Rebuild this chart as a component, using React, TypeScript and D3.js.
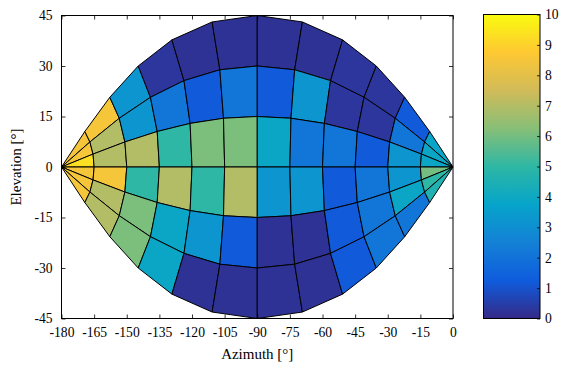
import React, { useEffect, useRef } from 'react';
import * as d3 from 'd3';

const W = 563;
const H = 365;
const plot = { left: 61.5, right: 453, top: 15.5, bottom: 318.5 };
const bar = { left: 483.5, right: 540, top: 14.5, bottom: 318.5 };

// grid edges: polar angle from the az=0 axis (columns, left to right)
const thetaEdges = [180, 165, 150, 135, 120, 105, 90, 75, 60, 45, 30, 15, 0];
// rotation about that axis (rows, top to bottom)
const phiEdges = [45, 30, 15, 0, -15, -30, -45];

// cell values, one array per row, top to bottom
const row1 = [8.5, 8.5, 3.2, 0.3, 0.2, 0.2, 0.2, 0.2, 0.3, 0.3, 1.2, 3.8];
const row2 = [8.5, 7.0, 3.2, 2.1, 1.2, 2.1, 1.2, 3.2, 0.3, 0.3, 2.1, 3.9];
const row3 = [9.3, 7.0, 7.0, 5.0, 6.1, 6.1, 3.9, 2.1, 2.1, 1.2, 3.2, 3.9];
const row4 = [8.5, 8.5, 5.0, 7.0, 5.0, 7.0, 3.2, 3.2, 1.2, 2.1, 3.2, 6.0];
const row5 = [8.5, 7.0, 6.1, 3.9, 3.2, 1.2, 0.2, 0.2, 1.2, 2.1, 3.9, 5.0];
const row6 = [8.5, 7.0, 6.1, 3.9, 0.2, 0.2, 0.2, 0.2, 1.2, 2.1, 2.1, 4.6];
const rows = [row1, row2, row3, row4, row5, row6];

const xTicks = [-180, -165, -150, -135, -120, -105, -90, -75, -60, -45, -30, -15, 0];
const yTicks = [-45, -30, -15, 0, 15, 30, 45];
const cTicks = [0, 1, 2, 3, 4, 5, 6, 7, 8, 9, 10];
const parula = ['#352a87', '#0f5cdd', '#1481d6', '#06a4ca', '#2eb7a4', '#87bf77', '#d1bb59', '#fec832', '#f9fb0e'];

const FONT = "'Liberation Serif', 'Times New Roman', Times, 'DejaVu Serif', serif";

const color = d3.scaleLinear<string>()
  .domain(parula.map((_, i) => (i * 10) / (parula.length - 1)))
  .range(parula)
  .interpolate(d3.interpolateRgb);

const x = d3.scaleLinear().domain([-180, 0]).range([plot.left, plot.right]);
const y = d3.scaleLinear().domain([-45, 45]).range([plot.bottom, plot.top]);
const cy = d3.scaleLinear().domain([0, 10]).range([bar.bottom, bar.top]);

// rotated spherical grid -> azimuth / elevation
const toAzEl = (theta: number, phi: number) => {
  const t = (theta * Math.PI) / 180;
  const p = (phi * Math.PI) / 180;
  const vx = Math.cos(t);
  const vy = -Math.sin(t) * Math.cos(p);
  const vz = Math.sin(t) * Math.sin(p);
  return [(Math.atan2(vy, vx) * 180) / Math.PI, (Math.asin(vz) * 180) / Math.PI];
};

const pt = (theta: number, phi: number) => {
  const [az, el] = toAzEl(theta, phi);
  return [x(az), y(el)] as [number, number];
};

const line = d3.line().curve(d3.curveLinearClosed);

const Axes = () => {
  const bottom = useRef<SVGGElement>(null);
  const top = useRef<SVGGElement>(null);
  const left = useRef<SVGGElement>(null);
  const right = useRef<SVGGElement>(null);
  const cbar = useRef<SVGGElement>(null);

  useEffect(() => {
    const style = (g: any) => {
      g.attr('font-family', null).attr('font-size', null);
      g.select('.domain').remove();
      g.selectAll('line').attr('stroke', '#000').attr('stroke-width', 0.8);
      g.selectAll('text').attr('fill', '#000');
    };
    const fmt = (d: any) => String(d);
    d3.select(bottom.current).call(d3.axisBottom(x).tickValues(xTicks).tickFormat(fmt).tickSize(-4).tickPadding(9)).call(style);
    d3.select(top.current).call(d3.axisTop(x).tickValues(xTicks).tickFormat(() => '').tickSize(-4)).call(style);
    d3.select(left.current).call(d3.axisLeft(y).tickValues(yTicks).tickFormat(fmt).tickSize(-4).tickPadding(9)).call(style);
    d3.select(right.current).call(d3.axisRight(y).tickValues(yTicks).tickFormat(() => '').tickSize(-4)).call(style);
    d3.select(cbar.current).call(d3.axisRight(cy).tickValues(cTicks).tickFormat(fmt).tickSize(-3).tickPadding(5)).call(style);
  }, []);

  return (
    <g style={{ fontFamily: FONT, fontSize: '13.6px' }}>
      <g ref={bottom} transform={`translate(0, ${plot.bottom})`} />
      <g ref={top} transform={`translate(0, ${plot.top})`} />
      <g ref={left} transform={`translate(${plot.left}, 0)`} />
      <g ref={right} transform={`translate(${plot.right}, 0)`} />
      <g ref={cbar} transform={`translate(${bar.right}, 0)`} />
    </g>
  );
};

const App = () => {
  const cells: { d: string; v: number; key: string }[] = [];
  rows.forEach((vals, r) => {
    vals.forEach((v, c) => {
      const poly = [
        pt(thetaEdges[c], phiEdges[r]),
        pt(thetaEdges[c + 1], phiEdges[r]),
        pt(thetaEdges[c + 1], phiEdges[r + 1]),
        pt(thetaEdges[c], phiEdges[r + 1]),
      ];
      cells.push({ d: line(poly) as string, v, key: `${r}-${c}` });
    });
  });
  const stops = d3.range(0, 10.01, 0.25);

  return (
    <svg width={W} height={H} style={{ position: 'absolute', left: 0, top: 0, background: '#fff' }}>
      <defs>
        <linearGradient id="cb" x1="0" y1="1" x2="0" y2="0">
          {stops.map((s) => (
            <stop key={s} offset={`${s * 10}%`} stopColor={color(s)} />
          ))}
        </linearGradient>
      </defs>
      <rect x={0} y={0} width={W} height={H} fill="#fff" />
      <g>
        {cells.map((c) => (
          <path key={c.key} d={c.d} fill={color(c.v)} stroke="#000" strokeWidth={1} strokeLinejoin="round" />
        ))}
      </g>
      <rect x={plot.left} y={plot.top} width={plot.right - plot.left} height={plot.bottom - plot.top} fill="none" stroke="#000" strokeWidth={1} />
      <rect x={bar.left} y={bar.top} width={bar.right - bar.left} height={bar.bottom - bar.top} fill="url(#cb)" stroke="#000" strokeWidth={1} />
      <Axes />
      <g style={{ fontFamily: FONT, fontSize: '15px' }}>
        <text x={(plot.left + plot.right) / 2} y={359} textAnchor="middle">Azimuth [°]</text>
        <text transform={`translate(21, ${(plot.top + plot.bottom) / 2}) rotate(-90)`} textAnchor="middle">Elevation [°]</text>
      </g>
    </svg>
  );
};

export default App;
